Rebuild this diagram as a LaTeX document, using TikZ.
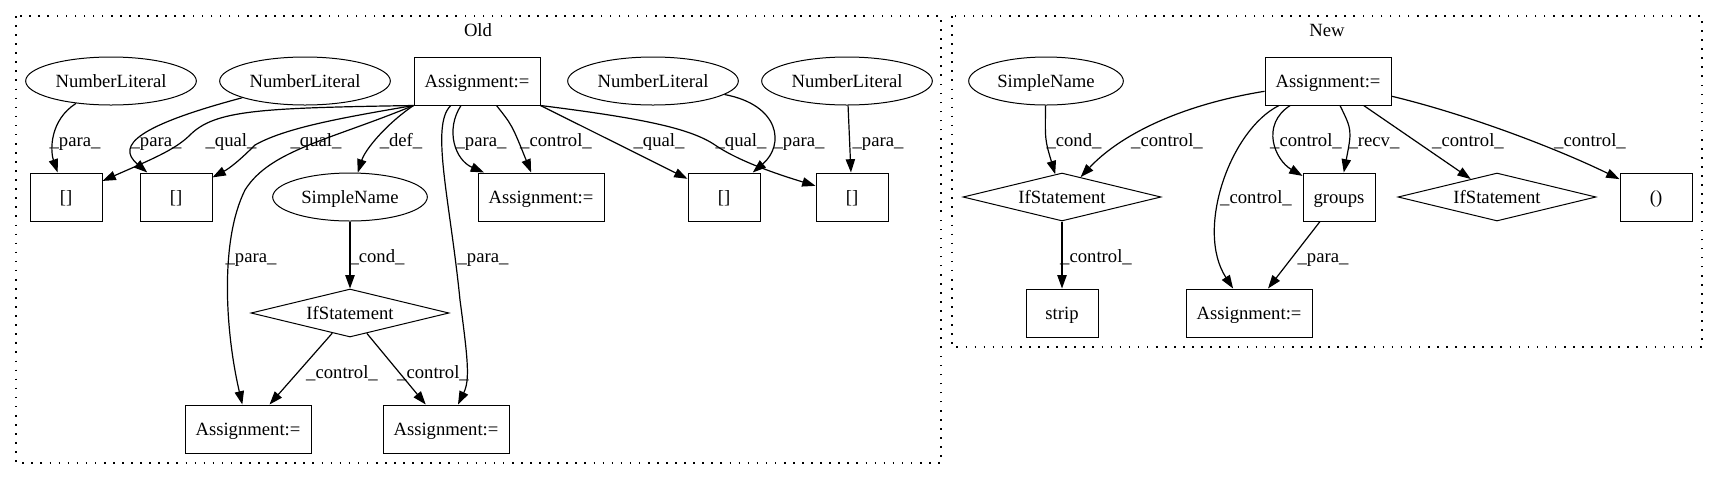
\documentclass[tikz,border=0pt]{standalone}
\usepackage{fontspec}
\setmainfont{Liberation Serif}
\usetikzlibrary{shapes.geometric}
\usetikzlibrary{arrows.meta}

\begin{document}
\begin{tikzpicture}[x=0.75pt, y=-0.75pt,
    every node/.style={font=\fontsize{14pt}{16pt}\selectfont, inner sep=0pt, line width=0.75pt},
    stmt/.style={draw, minimum width=94.5pt, minimum height=36pt, text height=10pt, text depth=1pt},
    cell/.style={draw, minimum width=54pt, minimum height=36pt, text height=10pt, text depth=1pt},
    lit/.style={draw, ellipse, minimum width=128pt, minimum height=36pt, text height=10pt, text depth=1pt},
    simple/.style={draw, ellipse, minimum width=116pt, minimum height=36pt, text height=10pt, text depth=1pt},
    cond/.style={draw, diamond, shape aspect=4, minimum width=148.5pt, minimum height=36pt, text height=10pt, text depth=1pt},
    lbl/.style={anchor=base},
    edge/.style={-{Triangle[length=10pt, width=7pt]}, line width=0.9pt},
    cluster/.style={line width=1pt, dash pattern=on 1.2pt off 5.6pt}]

    \useasboundingbox (0,0) rectangle (1717,480);

    % clusters
    \draw[cluster] (16,16) rectangle (941,463);
    \draw[cluster] (952,16) rectangle (1702,347);
    \node[lbl] (old) at (478,36) {Old};
    \node[lbl] (new) at (1327,36) {New};

    % Old
    \node[stmt] (aO) at (477,81) {Assignment:=};
    \node[lit] (nl1) at (111,81) {NumberLiteral};
    \node[lit] (nl2) at (305,81) {NumberLiteral};
    \node[lit] (nl3) at (653,81) {NumberLiteral};
    \node[lit] (nl4) at (847,81) {NumberLiteral};
    \node[cell] (b1) at (66,197) {[]};
    \node[cell] (b2) at (176,197) {[]};
    \node[simple] (snO) at (350,197) {SimpleName};
    \node[stmt] (aM) at (541,197) {Assignment:=};
    \node[cell] (b3) at (724,197) {[]};
    \node[cell] (b4) at (852,197) {[]};
    \node[cond] (ifO) at (350,313) {IfStatement};
    \node[stmt] (aBL) at (248,429) {Assignment:=};
    \node[stmt] (aBR) at (446,429) {Assignment:=};

    \draw[edge] (nl1) .. controls (50,120) and (50,150) .. (b1) node[lbl] at (75,146) {\_para\_};
    \draw[edge] (nl2) .. controls (140,125) and (115,145) .. (b2) node[lbl] at (156,146) {\_para\_};
    \draw[edge] (aO.south west) .. controls (260,108) and (215,110) .. (190,135) .. controls (175,150) and (150,160) .. (b1) node[lbl] at (231,146) {\_qual\_};
    \draw[edge] (aO.south west) .. controls (340,118) and (285,128) .. (255,145) .. controls (240,160) and (230,168) .. (b2) node[lbl] at (316,146) {\_qual\_};
    \draw[edge] (aO.south west) .. controls (385,125) and (365,150) .. (snO) node[lbl] at (401,146) {\_def\_};
    \draw[edge] (aO.south west) .. controls (330,140) and (270,150) .. (245,190) .. controls (220,240) and (225,330) .. (aBL) node[lbl] at (251,262) {\_para\_};
    \draw[edge] (aO) .. controls (445,130) and (455,160) .. (aM) node[lbl] at (481,146) {\_para\_};
    \draw[edge] (aO) .. controls (512,125) .. (aM) node[lbl] at (556,146) {\_control\_};
    \draw[edge] (aO.south east) -- (b3) node[lbl] at (659,146) {\_qual\_};
    \draw[edge] (aO.south east) .. controls (640,118) and (690,128) .. (715,145) .. controls (740,162) and (780,175) .. (b4) node[lbl] at (741,146) {\_qual\_};
    \draw[edge] (nl3) .. controls (780,105) and (785,145) .. (b3) node[lbl] at (799,146) {\_para\_};
    \draw[edge] (nl4) -- (b4) node[lbl] at (878,146) {\_para\_};
    \draw[edge] (aO) .. controls (430,125) and (450,200) .. (460,300) .. controls (468,360) and (470,380) .. (aBR) node[lbl] at (483,262) {\_para\_};
    \draw[edge] (snO) -- (ifO) node[lbl] at (377,262) {\_cond\_};
    \draw[edge] (ifO) -- (aBL) node[lbl] at (342,378) {\_control\_};
    \draw[edge] (ifO) -- (aBR) node[lbl] at (433,378) {\_control\_};

    % New
    \node[stmt] (aN) at (1328,81) {Assignment:=};
    \node[simple] (snN) at (1046,81) {SimpleName};
    \node[cond] (ifN) at (1062,197) {IfStatement};
    \node[cell] (grp) at (1339,197) {groups};
    \node[cond] (ifR) at (1497,197) {IfStatement};
    \node[cell] (par) at (1656,197) {()};
    \node[cell] (strip) at (1062,313) {strip};
    \node[stmt] (aNb) at (1249,313) {Assignment:=};

    \draw[edge] (snN) .. controls (1045,140) .. (ifN) node[lbl] at (1074,146) {\_cond\_};
    \draw[edge] (aN) .. controls (1180,105) and (1120,135) .. (ifN) node[lbl] at (1167,146) {\_control\_};
    \draw[edge] (aN) .. controls (1230,130) and (1195,230) .. (aNb) node[lbl] at (1256,203) {\_control\_};
    \draw[edge] (aN) .. controls (1260,125) and (1275,160) .. (grp) node[lbl] at (1306,146) {\_control\_};
    \draw[edge] (aN) .. controls (1352,130) .. (grp) node[lbl] at (1374,146) {\_recv\_};
    \draw[edge] (aN) -- (ifR) node[lbl] at (1468,146) {\_control\_};
    \draw[edge] (aN) .. controls (1470,115) and (1560,150) .. (par) node[lbl] at (1590,146) {\_control\_};
    \draw[edge] (ifN) -- (strip) node[lbl] at (1096,262) {\_control\_};
    \draw[edge] (grp) -- (aNb) node[lbl] at (1323,262) {\_para\_};

\end{tikzpicture}
\end{document}
